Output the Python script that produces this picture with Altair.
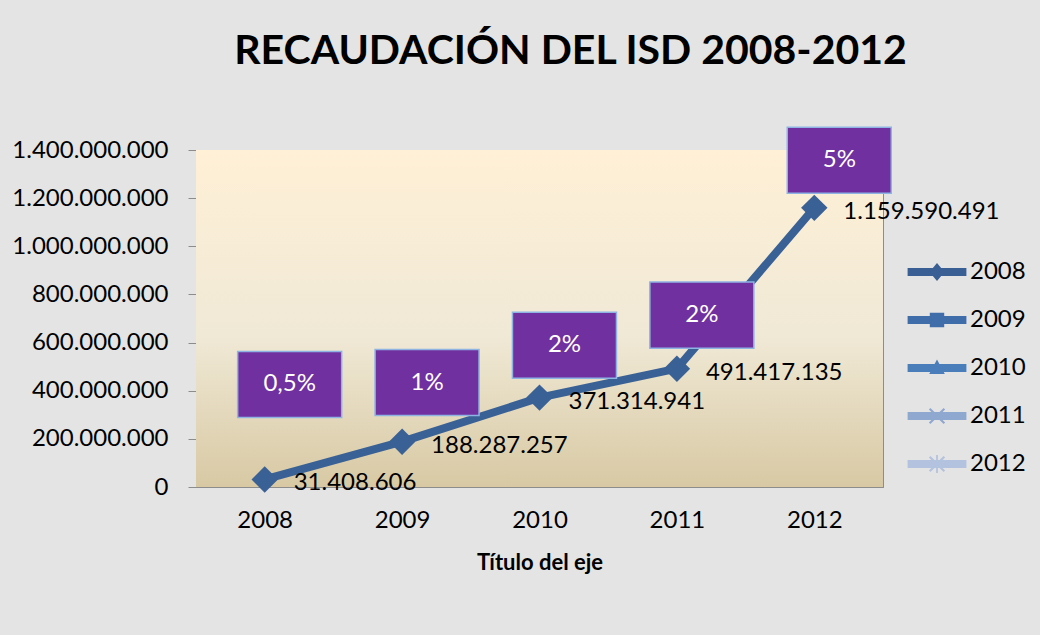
import altair as alt
import pandas as pd

# ---- data ----
years = ["2008", "2009", "2010", "2011", "2012"]
recaudacion = [31408606, 188287257, 371314941, 491417135, 1159590491]
value_labels = ["31.408.606", "188.287.257", "371.314.941", "491.417.135", "1.159.590.491"]
rates = ["0,5%", "1%", "2%", "2%", "5%"]
rate_box_levels = [426000000, 434000000, 589000000, 714000000, 1357000000]
legend_series = ["2008", "2009", "2010", "2011", "2012"]
legend_colors = ["#3A5F94", "#3F6DAA", "#4A7EBB", "#8FA8D0", "#B3C3DF"]
y_ticks = [0, 200000000, 400000000, 600000000, 800000000, 1000000000, 1200000000, 1400000000]

df = pd.DataFrame({"year": years, "value": recaudacion, "label": value_labels})
boxes = pd.DataFrame({"year": years, "level": rate_box_levels, "rate": rates})
leg = pd.DataFrame({"year": years, "serie": legend_series})
bg = pd.DataFrame({"lo": [y_ticks[0]], "hi": [y_ticks[-1]]})

FONT = "Lato"
FS = 24
LINE_COLOR = "#3A6195"

# custom legend symbols: line segment + marker (unit -1..1 => 60 px wide)
bar = "M-0.98,-0.13 L0.98,-0.13 L0.98,0.13 L-0.98,0.13 Z "
legend_shapes = [
    bar + "M0,-0.3 L0.25,0 L0,0.3 L-0.25,0 Z",
    bar + "M-0.24,-0.24 L0.24,-0.24 L0.24,0.24 L-0.24,0.24 Z",
    bar + "M0,-0.28 L0.26,0.2 L-0.26,0.2 Z",
    bar + "M-0.27,-0.22 L-0.22,-0.27 L0.27,0.22 L0.22,0.27 Z M0.22,-0.27 L0.27,-0.22 L-0.22,0.27 L-0.27,0.22 Z",
    bar + "M-0.27,-0.22 L-0.22,-0.27 L0.27,0.22 L0.22,0.27 Z M0.22,-0.27 L0.27,-0.22 L-0.22,0.27 L-0.27,0.22 Z M-0.03,-0.3 L0.03,-0.3 L0.03,0.3 L-0.03,0.3 Z",
]

x_enc = alt.X(
    "year:N",
    sort=years,
    scale=alt.Scale(paddingInner=0, paddingOuter=0),
    axis=alt.Axis(
        title="Título del eje",
        labelAngle=0,
        labelFontSize=FS,
        labelFont=FONT,
        labelColor="#000000",
        labelPadding=21,
        ticks=False,
        domain=True,
        domainColor="#8C8C8C",
        titleFont=FONT,
        titleFontSize=22,
        titleFontWeight="bold",
        titleColor="#000000",
        titlePadding=20,
    ),
)
y_scale = alt.Scale(domain=[y_ticks[0], y_ticks[-1]], nice=False)
y_axis = alt.Axis(
    title=None,
    values=y_ticks,
    labelExpr="replace(format(datum.value, ',d'), /,/g, '.')",
    labelFontSize=FS,
    labelFont=FONT,
    labelColor="#000000",
    labelPadding=20,
    tickSize=8,
    tickColor="#8C8C8C",
    domainColor="#8C8C8C",
    grid=True,
    gridColor="#8C8C8C",
    gridWidth=1,
)

gradient = alt.LinearGradient(
    gradient="linear",
    x1=0, y1=0, x2=0, y2=1,
    stops=[
        alt.GradientStop(offset=0, color="#FFF0D6"),
        alt.GradientStop(offset=0.55, color="#F0E9D6"),
        alt.GradientStop(offset=1, color="#D8C9A4"),
    ],
)
background = alt.Chart(bg).mark_rect(fill=gradient).encode(
    y=alt.Y("lo:Q", scale=y_scale, axis=y_axis), y2="hi:Q"
)

base = alt.Chart(df)

line = base.mark_line(color=LINE_COLOR, strokeWidth=8, strokeCap="round", strokeJoin="round").encode(
    x=x_enc, y=alt.Y("value:Q", scale=y_scale)
)
points = base.mark_point(shape="diamond", filled=True, color=LINE_COLOR, size=700, opacity=1).encode(
    x=alt.X("year:N", sort=years), y=alt.Y("value:Q")
)
labels = base.mark_text(align="left", baseline="middle", dx=29, dy=4, fontSize=FS, font=FONT, color="#000000").encode(
    x=alt.X("year:N", sort=years), y=alt.Y("value:Q"), text="label:N"
)

box_shape = "M-0.52,-0.635 L1.48,-0.635 L1.48,0.635 L-0.52,0.635 Z"
box_marks = alt.Chart(boxes).mark_point(
    shape=box_shape, size=10816, filled=True, fill="#7030A0", stroke="#8EB4E3", strokeWidth=1.5, opacity=1
).encode(x=alt.X("year:N", sort=years), y=alt.Y("level:Q"))
box_text = alt.Chart(boxes).mark_text(
    align="center", baseline="middle", dx=25, fontSize=FS, font=FONT, color="#FFFFFF"
).encode(x=alt.X("year:N", sort=years), y=alt.Y("level:Q"), text="rate:N")

legend_layer = alt.Chart(leg).mark_point(filled=True, size=0, opacity=0).encode(
    x=alt.X("year:N", sort=years),
    y=alt.value(0),
    color=alt.Color(
        "serie:N",
        scale=alt.Scale(domain=legend_series, range=legend_colors),
        legend=alt.Legend(
            title=None,
            orient="none",
            legendX=711,
            legendY=92,
            labelFontSize=FS,
            labelFont=FONT,
            labelColor="#000000",
            symbolSize=3600,
            symbolOpacity=1,
            symbolStrokeWidth=0,
            rowPadding=6,
            labelOffset=3,
            padding=0,
        ),
    ),
    shape=alt.Shape("serie:N", scale=alt.Scale(domain=legend_series, range=legend_shapes), legend=None),
)

chart = (
    alt.layer(background, line, points, labels, box_marks, box_text, legend_layer)
    .properties(
        width=687,
        height=337,
        autosize=alt.AutoSizeParams(type="none"),
        padding={"left": 196, "top": 150, "right": 157, "bottom": 148},
        background="#E4E4E4",
        title=alt.TitleParams(
            "RECAUDACIÓN DEL ISD 2008-2012",
            font=FONT,
            fontSize=41,
            fontWeight="bold",
            color="#000000",
            anchor="middle",
            frame="group",
            dx=31,
            offset=51,
        ),
    )
    .configure_view(stroke="#8C8C8C", strokeWidth=1)
)

chart.save("out.html", embed_options={"renderer": "svg", "actions": False})
